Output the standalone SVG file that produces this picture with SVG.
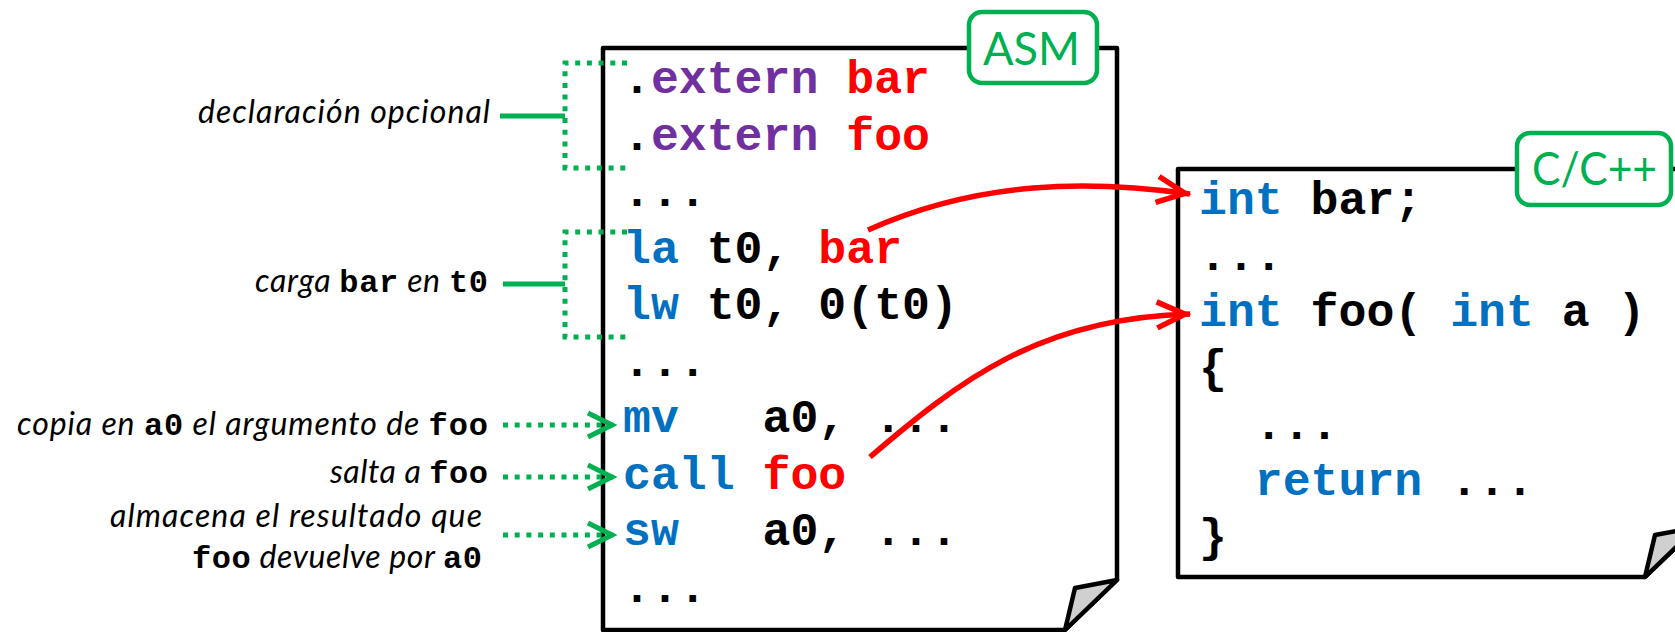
<svg xmlns="http://www.w3.org/2000/svg" width="1675" height="632" viewBox="0 0 1675 632">
<style>
.code{font-family:"Liberation Mono","Courier New",monospace;font-weight:bold;font-size:46.5px;fill:#000}
.kw{fill:#0070C0}
.ext{fill:#7030A0}
.sym{fill:#FF0000}
.lbl{font-family:Lato,"Open Sans",sans-serif;font-style:italic;font-size:32px;fill:#000}
.m{font-family:"Liberation Mono","Courier New",monospace;font-weight:bold;font-style:normal;font-size:32px}
.tag{font-family:Lato,"Open Sans",sans-serif;font-size:46px;fill:#00B050}
.tagbox{fill:#fff;stroke:#00B050;stroke-width:4.5}
.doc{fill:#fff;stroke:#000;stroke-width:4.5;stroke-linejoin:round}
.flap{fill:#d0d0d0;stroke:#000;stroke-width:4.5;stroke-linejoin:round}
.gdot{fill:none;stroke:#00B050;stroke-width:5;stroke-dasharray:5 6.7}
.gsolid{fill:none;stroke:#00B050;stroke-width:5}
.red{fill:none;stroke:#FF0000;stroke-width:5.5}
</style>
<defs>
<marker id="ra" markerUnits="userSpaceOnUse" markerWidth="50" markerHeight="50" viewBox="-40 -20 50 40" refX="0" refY="0" orient="auto">
<path d="M-33 -13 L-5 0 L-33 13" fill="none" stroke="#FF0000" stroke-width="5.5"/>
</marker>
<marker id="ga" markerUnits="userSpaceOnUse" markerWidth="50" markerHeight="50" viewBox="-40 -20 50 40" refX="0" refY="0" orient="auto">
<path d="M-29 -12 L-5 0 L-29 12" fill="none" stroke="#00B050" stroke-width="5"/>
</marker>
</defs>
<rect width="1675" height="632" fill="#fff"/>

<g id="asm">
<path class="doc" d="M603 48 H1117 V580 L1065 630 H603 Z"/>
<polygon class="flap" points="1117,580 1075,588 1065,630"/>
<rect class="tagbox" x="969" y="12" width="128" height="71" rx="13"/>
<text class="tag" x="983" y="65" textLength="97" lengthAdjust="spacingAndGlyphs">ASM</text>
<text class="code" x="623" y="93" xml:space="preserve">.<tspan class="ext">extern</tspan> <tspan class="sym">bar</tspan></text>
<text class="code" x="623" y="149.5" xml:space="preserve">.<tspan class="ext">extern</tspan> <tspan class="sym">foo</tspan></text>
<text class="code" x="623" y="206" xml:space="preserve">...</text>
<text class="code" x="623" y="262.6" xml:space="preserve"><tspan class="kw">la</tspan> t0, <tspan class="sym">bar</tspan></text>
<text class="code" x="623" y="319.2" xml:space="preserve"><tspan class="kw">lw</tspan> t0, 0(t0)</text>
<text class="code" x="623" y="375.7" xml:space="preserve">...</text>
<text class="code" x="623" y="432.3" xml:space="preserve"><tspan class="kw">mv</tspan>   a0, ...</text>
<text class="code" x="623" y="488.8" xml:space="preserve"><tspan class="kw">call</tspan> <tspan class="sym">foo</tspan></text>
<text class="code" x="623" y="545.4" xml:space="preserve"><tspan class="kw">sw</tspan>   a0, ...</text>
<text class="code" x="623" y="602" xml:space="preserve">...</text>
</g>

<g id="cpp">
<path class="doc" d="M1178 169 H1697 V527 L1645 577 H1178 Z"/>
<polygon class="flap" points="1697,527 1655,535 1645,577"/>
<rect class="tagbox" x="1517" y="133" width="154" height="72" rx="13"/>
<text class="tag" x="1532" y="185" textLength="125" lengthAdjust="spacingAndGlyphs">C/C++</text>
<text class="code" x="1199" y="213.5" xml:space="preserve"><tspan class="kw">int</tspan> bar;</text>
<text class="code" x="1199" y="269.8" xml:space="preserve">...</text>
<text class="code" x="1199" y="326.1" xml:space="preserve"><tspan class="kw">int</tspan> foo( <tspan class="kw">int</tspan> a )</text>
<text class="code" x="1199" y="382.4" xml:space="preserve">{</text>
<text class="code" x="1199" y="438.7" xml:space="preserve">  ...</text>
<text class="code" x="1199" y="495" xml:space="preserve">  <tspan class="kw">return</tspan> ...</text>
<text class="code" x="1199" y="551.3" xml:space="preserve">}</text>
</g>

<g id="label-declaracion">
<text class="lbl" x="198" y="123" textLength="292">declaración opcional</text>
</g>
<g id="label-carga">
<text class="lbl" x="255" y="292" textLength="233">carga <tspan class="m">bar</tspan> en <tspan class="m">t0</tspan></text>
</g>
<g id="label-copia">
<text class="lbl" x="17" y="435" textLength="471">copia en <tspan class="m">a0</tspan> el argumento de <tspan class="m">foo</tspan></text>
</g>
<g id="label-salta">
<text class="lbl" x="330" y="483" textLength="158">salta a <tspan class="m">foo</tspan></text>
</g>
<g id="label-almacena">
<text class="lbl" x="110" y="527" textLength="372">almacena el resultado que</text>
<text class="lbl" x="192" y="568" textLength="290"><tspan class="m">foo</tspan> devuelve por <tspan class="m">a0</tspan></text>
</g>

<g id="connectors">
<path class="gsolid" d="M500 116 H565"/>
<path class="gdot" d="M627 63 H565 V168 H627"/>
<path class="gsolid" d="M503 284 H565"/>
<path class="gdot" d="M627 232 H565 V337 H627"/>
<path class="gdot" d="M503 425 H617" marker-end="url(#ga)"/>
<path class="gdot" d="M503 477 H617" marker-end="url(#ga)"/>
<path class="gdot" d="M503 535 H617" marker-end="url(#ga)"/>
<path class="red" d="M868 230 C980 180 1090 180 1190 194" marker-end="url(#ra)"/>
<path class="red" d="M870 457 C960 380 1040 318 1190 314" marker-end="url(#ra)"/>
</g>
</svg>
